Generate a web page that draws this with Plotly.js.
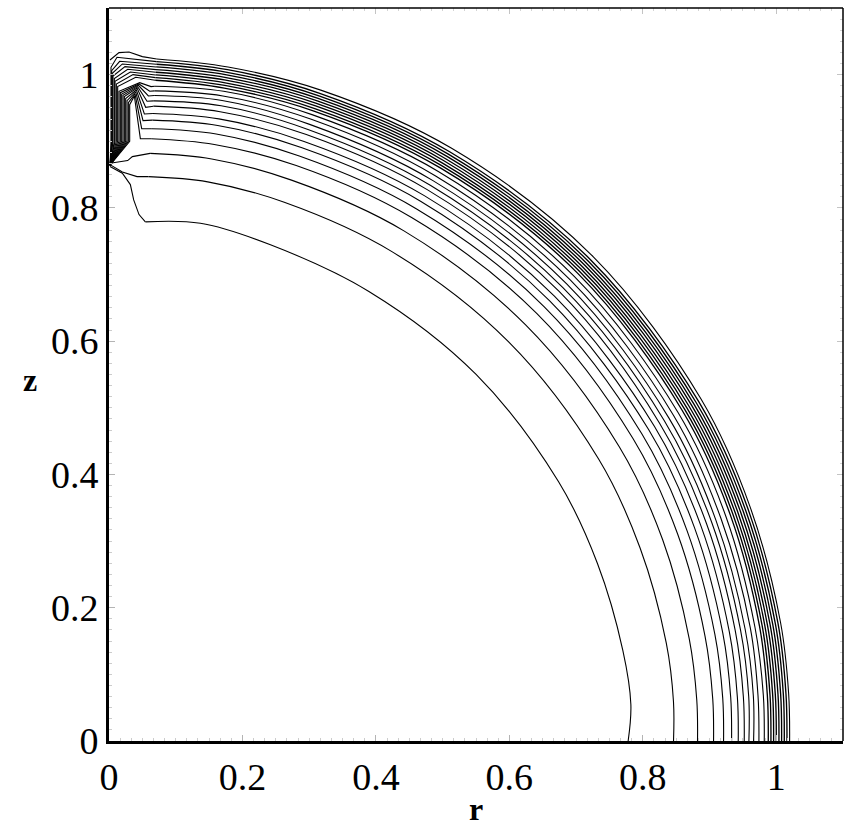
<!DOCTYPE html>
<html>
<head>
<meta charset="utf-8">
<script src="https://cdn.plot.ly/plotly-3.0.1.min.js"></script>
<style>html,body{margin:0;padding:0;background:#fff;}</style>
</head>
<body>
<div id="chart" style="width:853px;height:830px;"></div>
<script>
// ---------- data ----------
// axis ticks
const rTicks = [0, 0.2, 0.4, 0.6, 0.8, 1];
const rTickText = ['0', '0.2', '0.4', '0.6', '0.8', '1'];
const zTicks = [0, 0.2, 0.4, 0.6, 0.8, 1];
const zTickText = ['0', '0.2', '0.4', '0.6', '0.8', '1'];

// polar angles (deg, measured from the r axis) at which contour radii were read
const arcAngles = [0, 4, 10, 20, 30, 45, 60, 72, 80, 86];

// contour radii at those angles, inner to outer
const rL01 = [0.778, 0.784, 0.782, 0.779, 0.778, 0.778, 0.779, 0.783, 0.789, 0.781];
const rL02 = [0.846, 0.848, 0.848, 0.847, 0.847, 0.847, 0.848, 0.850, 0.852, 0.849];
const rL03 = [0.882, 0.883, 0.883, 0.883, 0.883, 0.883, 0.884, 0.885, 0.887, 0.884];
const rL04 = [0.906, 0.907, 0.907, 0.907, 0.907, 0.907, 0.907, 0.908, 0.909, 0.906];
const rL05 = [0.921, 0.922, 0.922, 0.922, 0.922, 0.922, 0.922, 0.923, 0.925, 0.921];
const rL06 = [0.933, 0.934, 0.934, 0.934, 0.934, 0.934, 0.935, 0.936, 0.938, 0.934];
const rL07 = [0.943, 0.944, 0.944, 0.944, 0.944, 0.944, 0.945, 0.946, 0.948, 0.944];
const rL08 = [0.952, 0.953, 0.953, 0.953, 0.953, 0.954, 0.955, 0.957, 0.959, 0.955];
const rL09 = [0.959, 0.961, 0.961, 0.961, 0.961, 0.962, 0.963, 0.965, 0.968, 0.963];
const rL10 = [0.966, 0.968, 0.968, 0.968, 0.969, 0.970, 0.971, 0.973, 0.976, 0.971];
const rL11 = [0.974, 0.975, 0.976, 0.976, 0.977, 0.978, 0.979, 0.981, 0.983, 0.978];
const rL12 = [0.982, 0.983, 0.983, 0.984, 0.985, 0.986, 0.987, 0.988, 0.990, 0.985];
const rB01 = [0.988, 0.989, 0.990, 0.991, 0.992, 0.993, 0.993, 0.994, 0.995, 0.994];
const rB02 = [0.992, 0.993, 0.994, 0.995, 0.996, 0.997, 0.997, 0.998, 0.999, 0.998];
const rB03 = [0.996, 0.997, 0.998, 0.999, 1.000, 1.001, 1.001, 1.002, 1.003, 1.002];
const rB04 = [1.000, 1.001, 1.002, 1.003, 1.004, 1.005, 1.005, 1.006, 1.007, 1.006];
const rB05 = [1.004, 1.005, 1.006, 1.007, 1.008, 1.009, 1.009, 1.010, 1.011, 1.010];
const rB06 = [1.008, 1.009, 1.010, 1.011, 1.012, 1.013, 1.013, 1.014, 1.015, 1.014];
const rB07 = [1.012, 1.013, 1.014, 1.015, 1.016, 1.017, 1.017, 1.018, 1.019, 1.018];
const rB08 = [1.016, 1.017, 1.018, 1.019, 1.020, 1.021, 1.021, 1.022, 1.023, 1.022];
const rOut = [1.020, 1.021, 1.022, 1.023, 1.025, 1.027, 1.027, 1.027, 1.027, 1.026];

// left-end pieces near the axis (r, z)
const capL01_r = [0.045, 0.037, 0.032, 0.020, 0.0015];
const capL01_z = [0.790, 0.812, 0.835, 0.852, 0.862];
const capL02_r = [0.042, 0.020, 0.0015];
const capL02_z = [0.847, 0.854, 0.865];
const capL03_r = [0.035, 0.028, 0.0015];
const capL03_z = [0.877, 0.871, 0.867];
const capOut_r = [0.050, 0.030, 0.015, 0.0015];
const capOut_z = [1.027, 1.034, 1.033, 1.022];

// chevron-shaped ends of contours L04..L12
const chevBendR = [0.047, 0.049, 0.051, 0.053, 0.055, 0.057, 0.059, 0.061, 0.063];
const chevBendZ = [0.904, 0.919, 0.931, 0.941, 0.951, 0.960, 0.968, 0.975, 0.982];
const chevApexR = [0.038, 0.039, 0.040, 0.041, 0.042, 0.043, 0.044, 0.045, 0.046];
const chevApexZ = [0.968, 0.971, 0.974, 0.977, 0.980, 0.982, 0.984, 0.986, 0.988];
const chevLegR  = [0.031, 0.029, 0.027, 0.025, 0.023, 0.021, 0.019, 0.017, 0.015];
const chevLegTopZ = [0.955, 0.958, 0.961, 0.964, 0.967, 0.969, 0.971, 0.973, 0.975];

// band contours B01..B08 folding down into the column at the axis
const bandCornerR = [0.040, 0.036, 0.032, 0.028, 0.024, 0.020, 0.016, 0.012];
const bandCornerZ = [0.996, 1.000, 1.004, 1.008, 1.012, 1.016, 1.020, 1.026];
const bandLegR    = [0.013, 0.011, 0.009, 0.008, 0.006, 0.005, 0.004, 0.003];
const bandLegTopZ = [0.982, 0.986, 0.990, 0.994, 0.998, 1.002, 1.006, 1.011];

// column foot where the folded contours meet on the axis
const legFootZ = 0.900;
const meetR = 0.0015;
const meetZ = 0.864;

// ---------- build traces ----------
const LINE = {color: '#000', width: 1.1};
const BAND_LINE = {color: '#000', width: 1.35};
const deg = Math.PI / 180;
const traces = [];

function arcXY(R) {
  return {
    x: arcAngles.map((a, i) => R[i] * Math.cos(a * deg)),
    y: arcAngles.map((a, i) => R[i] * Math.sin(a * deg))
  };
}
function addArc(R, style) {
  const p = arcXY(R);
  traces.push({type: 'scatter', mode: 'lines', x: p.x, y: p.y,
    line: Object.assign({shape: 'spline', smoothing: 1}, style || LINE),
    hoverinfo: 'skip', showlegend: false});
  return {x: p.x[p.x.length - 1], y: p.y[p.y.length - 1]};
}
function addPiece(start, xs, ys, style) {
  traces.push({type: 'scatter', mode: 'lines', x: [start.x].concat(xs), y: [start.y].concat(ys),
    line: Object.assign({shape: 'linear'}, style || LINE), hoverinfo: 'skip', showlegend: false});
}

let e;
e = addArc(rL01); addPiece(e, capL01_r, capL01_z);
e = addArc(rL02); addPiece(e, capL02_r, capL02_z);
e = addArc(rL03); addPiece(e, capL03_r, capL03_z);

const chevRadii = [rL04, rL05, rL06, rL07, rL08, rL09, rL10, rL11, rL12];
chevRadii.forEach((R, i) => {
  const s = addArc(R);
  addPiece(s,
    [chevBendR[i], chevApexR[i], chevLegR[i], chevLegR[i], meetR],
    [chevBendZ[i], chevApexZ[i], chevLegTopZ[i], legFootZ, meetZ]);
});

const bandRadii = [rB01, rB02, rB03, rB04, rB05, rB06, rB07, rB08];
bandRadii.forEach((R, i) => {
  const s = addArc(R, BAND_LINE);
  addPiece(s,
    [bandCornerR[i], bandLegR[i], bandLegR[i], meetR],
    [bandCornerZ[i], bandLegTopZ[i], legFootZ, meetZ]);
});

e = addArc(rOut); addPiece(e, capOut_r, capOut_z);

// invisible trace so the mirrored (top/right) tick axes are drawn
traces.push({type: 'scatter', mode: 'markers', x: [0.5], y: [0.5], xaxis: 'x2', yaxis: 'y2',
  marker: {opacity: 0}, hoverinfo: 'skip', showlegend: false});

// ---------- layout ----------
const SERIF = 'Liberation Serif, Times New Roman, Times, serif';
const axisCommon = {
  range: [0, 1.1],
  showgrid: false,
  zeroline: false,
  showline: true,
  linecolor: '#000',
  linewidth: 3,
  mirror: false,
  ticks: 'inside',
  ticklen: 6,
  tickwidth: 1,
  tickcolor: '#b4b4b4',
  tickfont: {family: SERIF, size: 38, color: '#000'},
  minor: {ticks: 'inside', ticklen: 3, tickwidth: 1, tickcolor: '#cccccc', dtick: 0.0166667, showgrid: false}
};
const mirrorCommon = {
  range: [0, 1.1],
  showgrid: false,
  zeroline: false,
  showline: false,
  showticklabels: false,
  ticks: 'inside',
  ticklen: 6,
  tickwidth: 1,
  tickcolor: '#c4c4c4',
  tickvals: rTicks,
  minor: {ticks: 'inside', ticklen: 3, tickwidth: 1, tickcolor: '#d4d4d4', dtick: 0.0166667, showgrid: false}
};

const layout = {
  width: 853,
  height: 830,
  margin: {l: 109, r: 10, t: 8, b: 89},
  paper_bgcolor: '#fff',
  plot_bgcolor: '#fff',
  showlegend: false,
  xaxis: Object.assign({}, axisCommon, {
    tickvals: rTicks, ticktext: rTickText,
    title: {text: 'r', font: {family: SERIF, size: 32, color: '#000', weight: 'bold'}, standoff: 2}
  }),
  yaxis: Object.assign({}, axisCommon, {
    tickvals: zTicks, ticktext: zTickText,
    title: {text: ''}
  }),
  xaxis2: Object.assign({}, mirrorCommon, {overlaying: 'x', side: 'top', anchor: 'y2'}),
  yaxis2: Object.assign({}, mirrorCommon, {overlaying: 'y', side: 'right', anchor: 'x2'}),
  shapes: [
    {type: 'line', xref: 'paper', yref: 'paper', x0: 0, x1: 1, y0: 1, y1: 1, line: {color: '#000', width: 1.5}},
    {type: 'line', xref: 'paper', yref: 'paper', x0: 1, x1: 1, y0: 0, y1: 1, line: {color: '#000', width: 1.5}}
  ],
  annotations: [
    {text: 'z', xref: 'paper', yref: 'paper', x: -0.108, y: 0.493, xanchor: 'center', yanchor: 'middle',
     showarrow: false, font: {family: SERIF, size: 32, color: '#000', weight: 'bold'}}
  ]
};

Plotly.newPlot('chart', traces, layout, {staticPlot: true, displayModeBar: false});
</script>
</body>
</html>
